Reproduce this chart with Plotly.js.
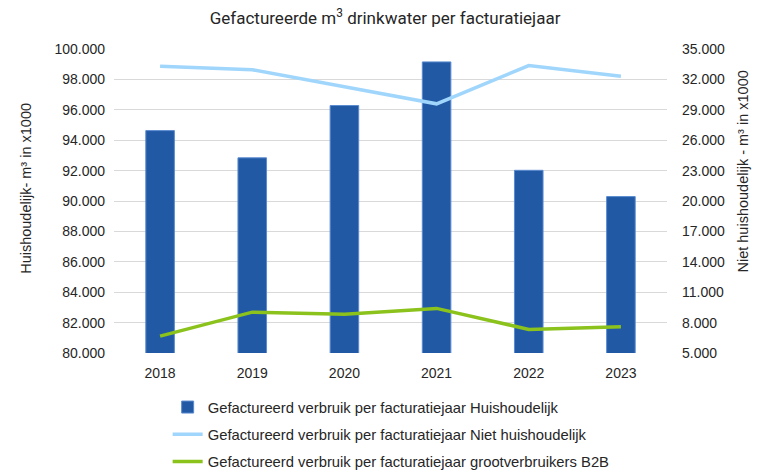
<!DOCTYPE html>
<html>
<head>
<meta charset="utf-8">
<script src="https://cdn.plot.ly/plotly-3.0.1.min.js"></script>
<style>
   html, body { margin: 0; padding: 0; background: #ffffff; }
   #div_plot { width: 758px; height: 471px; }
</style>
</head>
<body>
<div id="div_plot"></div>
<script>
var years = ['2018', '2019', '2020', '2021', '2022', '2023'];
var huishoudelijk = [94630, 92840, 96280, 99150, 92020, 90290];
var niet_huishoudelijk = [33290, 32960, 31280, 29590, 33360, 32300];
var grootverbruikers = [6670, 9030, 8830, 9400, 7330, 7600];

var left_ticks = [80000, 82000, 84000, 86000, 88000, 90000, 92000, 94000, 96000, 98000, 100000];
var left_labels = ['80.000', '82.000', '84.000', '86.000', '88.000', '90.000', '92.000', '94.000', '96.000', '98.000', '100.000'];
var right_ticks = [5000, 8000, 11000, 14000, 17000, 20000, 23000, 26000, 29000, 32000, 35000];
var right_labels = ['5.000', '8.000', '11.000', '14.000', '17.000', '20.000', '23.000', '26.000', '29.000', '32.000', '35.000'];

function init_graph(){

   var tick_font = {family: 'Liberation Sans, Arial, sans-serif', size: 14, color: '#262626'};
   var title_font = {family: 'Roboto, Noto Sans, sans-serif', size: 17, color: '#262626'};
   var axis_title_font = {family: 'Liberation Sans, Arial, sans-serif', size: 14.5, color: '#262626'};

   var trace_bar = {
      x: years,
      y: huishoudelijk,
      name: 'Gefactureerd verbruik per facturatiejaar Huishoudelijk',
      type: 'bar',
      legendgroup: 'a',
      marker: {
         color: '#2159a4',
         line: {color: '#5a8bd0', width: 1}
      },
      hoverinfo: 'x+y'
   };

   var trace_niet = {
      x: years,
      y: niet_huishoudelijk,
      name: 'Gefactureerd verbruik per facturatiejaar Niet huishoudelijk',
      type: 'scatter',
      mode: 'lines',
      yaxis: 'y2',
      legendgroup: 'b',
      line: {color: '#a0d6fc', width: 3.5}
   };

   var trace_groot = {
      x: years,
      y: grootverbruikers,
      name: 'Gefactureerd verbruik per facturatiejaar grootverbruikers B2B',
      type: 'scatter',
      mode: 'lines',
      yaxis: 'y2',
      legendgroup: 'c',
      line: {color: '#8bc21c', width: 3.5}
   };

   var data = [trace_bar, trace_niet, trace_groot];

   var layout = {
      width: 758,
      height: 471,
      margin: {l: 114, r: 91, t: 49, b: 118},
      paper_bgcolor: '#ffffff',
      plot_bgcolor: '#ffffff',
      showlegend: true,
      bargap: 0.69,
      title: {
         text: 'Gefactureerde m<sup>3</sup> drinkwater per facturatiejaar',
         font: title_font,
         x: 0.508,
         xanchor: 'center',
         y: 0.962,
         yanchor: 'middle'
      },
      xaxis: {
         type: 'category',
         tickfont: tick_font,
         showgrid: false,
         showline: false,
         ticks: '',
         ticklabelstandoff: 10
      },
      yaxis: {
         range: [80000, 100000],
         tickvals: left_ticks,
         ticktext: left_labels,
         tickfont: tick_font,
         gridcolor: '#d9d9d9',
         gridwidth: 1,
         zeroline: false,
         ticks: '',
         ticklabelstandoff: 8
      },
      yaxis2: {
         range: [5000, 35000],
         overlaying: 'y',
         side: 'right',
         tickvals: right_ticks,
         ticktext: right_labels,
         tickfont: tick_font,
         showgrid: false,
         zeroline: false,
         ticks: '',
         ticklabelstandoff: 14
      },
      annotations: [
         {
            text: 'Huishoudelijk- m³ in x1000',
            xref: 'paper', yref: 'paper',
            x: -88 / 553, y: 0.54,
            xanchor: 'center', yanchor: 'middle',
            textangle: -90,
            showarrow: false,
            font: axis_title_font
         },
         {
            text: 'Niet huishoudelijk - m³ in x1000',
            xref: 'paper', yref: 'paper',
            x: 1 + 76 / 553, y: 0.597,
            xanchor: 'center', yanchor: 'middle',
            textangle: -90,
            showarrow: false,
            font: axis_title_font
         }
      ],
      legend: {
         orientation: 'v',
         x: 0.097,
         xanchor: 'left',
         yref: 'container',
         y: 0.17,
         yanchor: 'top',
         font: {family: 'Liberation Sans, Arial, sans-serif', size: 14.8, color: '#262626'},
         itemwidth: 30,
         tracegroupgap: 5
      }
   };

   var config = {
      responsive: false,
      displayModeBar : false
   };

   Plotly.newPlot('div_plot', data, layout, config);
}

init_graph();
</script>
</body>
</html>
